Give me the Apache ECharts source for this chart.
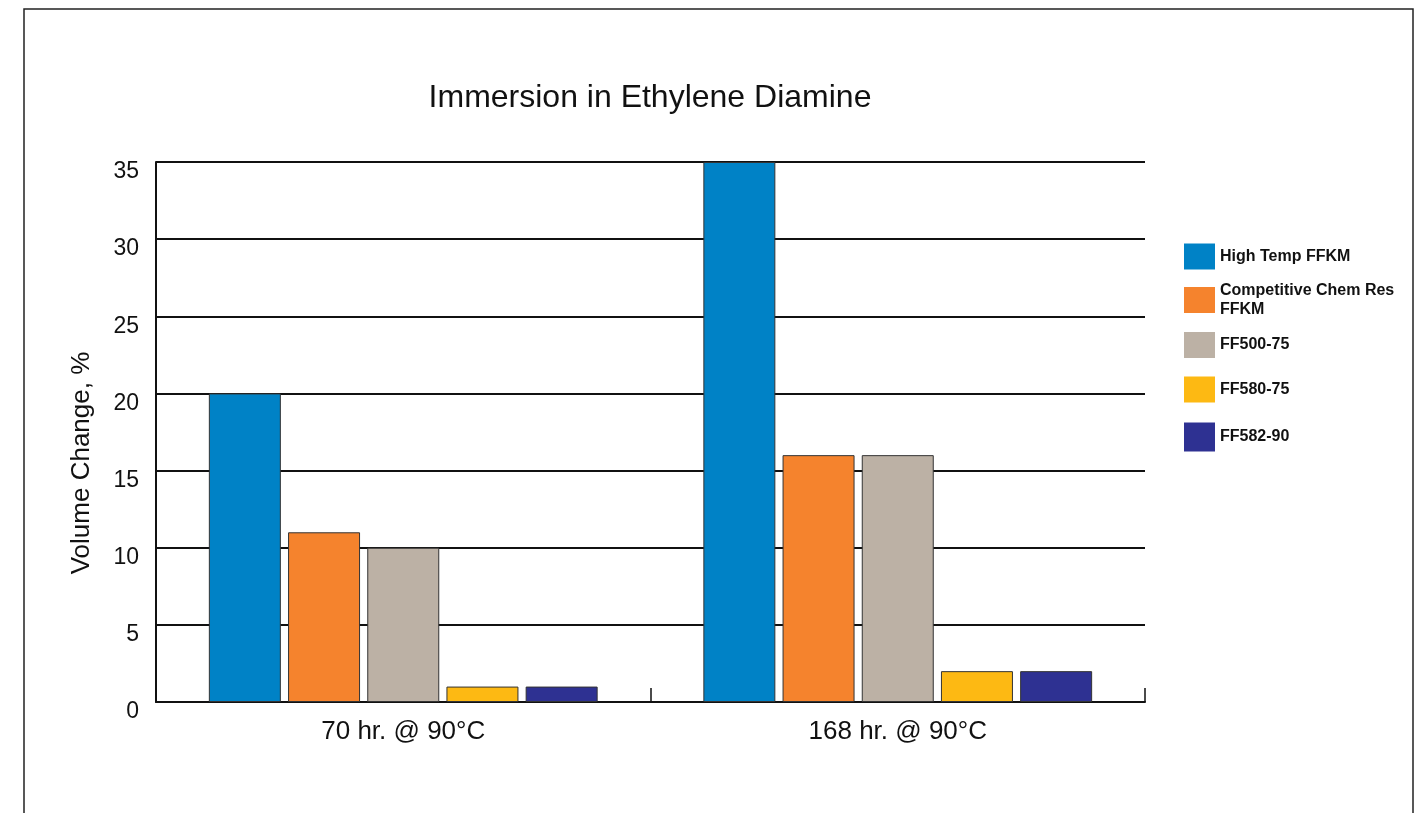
<!DOCTYPE html>
<html>
<head>
<meta charset="utf-8">
<script src="https://cdn.jsdelivr.net/npm/echarts@6/dist/echarts.min.js"></script>
<style>
html,body{margin:0;padding:0;background:#fff;}
#chart{width:1424px;height:813px;}
</style>
</head>
<body>
<div id="chart"></div>
<script>
const categories = ['70 hr. @ 90°C', '168 hr. @ 90°C'];
const seriesNames = ['High Temp FFKM', 'Competitive Chem Res\nFFKM', 'FF500-75', 'FF580-75', 'FF582-90'];
const highTempFFKM = [20, 35];
const competitiveFFKM = [11, 16];
const ff500_75 = [10, 16];
const ff580_75 = [1, 2];
const ff582_90 = [1, 2];
const seriesValues = [highTempFFKM, competitiveFFKM, ff500_75, ff580_75, ff582_90];
const colors = ['#0082C6', '#F5832D', '#BCB1A5', '#FDB913', '#2E3192'];

const FONT = '"Liberation Sans", Arial, sans-serif';
const legendTops = [243.5, 281, 332, 376.5, 422.5];
const legendIconH = [26, 26, 26, 26, 29];

const chart = echarts.init(document.getElementById('chart'), null, {renderer: 'canvas'});

const option = {
  backgroundColor: '#fff',
  animation: false,
  title: {
    text: 'Immersion in Ethylene Diamine',
    left: 650,
    top: 82,
    padding: 0,
    textAlign: 'center',
    textStyle: {fontFamily: FONT, fontSize: 32, fontWeight: 'normal', color: '#111'}
  },
  legend: seriesNames.map((n, i) => ({
    data: [n],
    orient: 'vertical',
    left: 1184,
    top: legendTops[i],
    padding: 0,
    itemWidth: 31,
    itemHeight: legendIconH[i],
    selectedMode: false,
    icon: 'rect',
    itemStyle: {borderWidth: 0},
    textStyle: {fontFamily: FONT, fontSize: 16, fontWeight: 'bold', color: '#111', lineHeight: 19}
  })),
  grid: {left: 156, top: 162, width: 989, height: 540, containLabel: false},
  xAxis: {
    type: 'category',
    data: categories,
    axisLine: {show: true, lineStyle: {color: '#111', width: 2}},
    axisTick: {show: true, inside: true, length: 14, lineStyle: {color: '#111', width: 1.5}},
    axisLabel: {fontFamily: FONT, fontSize: 26, color: '#111', margin: 17},
    splitLine: {show: false}
  },
  yAxis: {
    type: 'value',
    min: 0,
    max: 35,
    interval: 5,
    axisLine: {show: true, lineStyle: {color: '#111', width: 2}},
    axisTick: {show: false},
    axisLabel: {fontFamily: FONT, fontSize: 23, color: '#111', margin: 17, verticalAlign: 'top', lineHeight: 20},
    splitLine: {show: true, lineStyle: {color: '#111', width: 2}}
  },
  graphic: [
    {
      type: 'rect',
      shape: {x: 24, y: 9, width: 1389, height: 900},
      style: {fill: 'none', stroke: '#222', lineWidth: 1.5},
      silent: true
    },
    {
      type: 'text',
      x: 82,
      y: 463,
      rotation: Math.PI / 2,
      style: {text: 'Volume Change, %', fontFamily: FONT, fontSize: 26, fill: '#111', align: 'center', verticalAlign: 'middle'}
    }
  ],
  series: seriesNames.map((n, i) => ({
    name: n,
    type: 'bar',
    data: seriesValues[i],
    barWidth: 72,
    barGap: '10%',
    itemStyle: {color: colors[i], borderColor: '#333', borderWidth: 1}
  }))
};
chart.setOption(option);
</script>
</body>
</html>
